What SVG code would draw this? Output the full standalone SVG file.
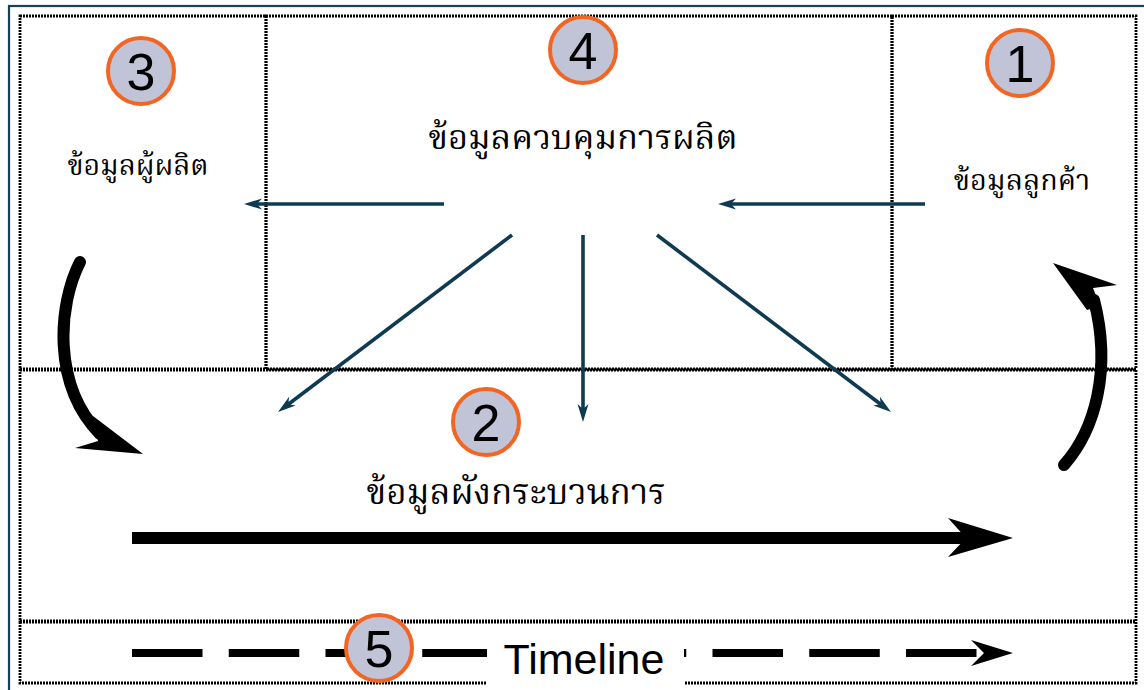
<svg xmlns="http://www.w3.org/2000/svg" width="1144" height="690" viewBox="0 0 1144 690">
<style>
.box{fill:none;stroke:#000;stroke-width:2.8;stroke-dasharray:2 1}
.badge circle{fill:#c1c3d7;stroke:#f26522;stroke-width:4}
.badge text{font-family:"Liberation Sans",Arial,sans-serif;font-size:52px;fill:#000;text-anchor:middle}
.th{font-family:"Noto Serif Thai","Noto Sans Thai","Noto Sans","DejaVu Sans",sans-serif;fill:#000;text-anchor:middle}
.conn{stroke:#0e3a52;stroke-width:3.6;fill:none;marker-end:url(#tip)}
</style>
<defs>
<marker id="tip" markerUnits="userSpaceOnUse" viewBox="0 -6 20 12" markerWidth="20" markerHeight="12" refX="10" refY="0" orient="auto">
<path d="M0,-5.5 L18,0 L0,5.5 L5,0 z" fill="#0e3a52"/>
</marker>
</defs>
<rect width="1144" height="690" fill="#fff"/>
<rect x="9" y="6" width="1200" height="800" fill="none" stroke="#17415a" stroke-width="2.2"/>

<g id="box3">
<rect class="box" x="20" y="16" width="246" height="353"/>
<g class="badge"><circle cx="141" cy="71" r="33"/><text x="141" y="90">3</text></g>
<text class="th" x="138" y="175" font-size="28.5">ข้อมูลผู้ผลิต</text>
</g>
<g id="box4">
<rect class="box" x="266" y="16" width="626" height="353"/>
<g class="badge"><circle cx="583" cy="50" r="33"/><text x="583" y="69">4</text></g>
<text class="th" x="583" y="149" font-size="34.5">ข้อมูลควบคุมการผลิต</text>
</g>
<g id="box1">
<rect class="box" x="892" y="16" width="244" height="353"/>
<g class="badge"><circle cx="1020" cy="63" r="33"/><text x="1020" y="82">1</text></g>
<text class="th" x="1022" y="190" font-size="28.8">ข้อมูลลูกค้า</text>
</g>
<g id="box2">
<rect class="box" x="20" y="370" width="1116" height="251"/>
<g class="badge"><circle cx="486" cy="422" r="33"/><text x="486" y="441">2</text></g>
<text class="th" x="516" y="504" font-size="35">ข้อมูลผังกระบวนการ</text>
<line x1="132" y1="538" x2="970" y2="538" stroke="#000" stroke-width="12"/>
<polygon points="948,518 1013,538 948,557 966,538" fill="#000"/>
</g>
<g id="box5">
<rect class="box" x="20" y="622" width="1116" height="61"/>
<line x1="132" y1="653" x2="977" y2="653" stroke="#000" stroke-width="8" stroke-dasharray="70.5 26.25"/>
<polygon points="971,640 1013,653 971,666 984,653" fill="#000"/>
<rect x="487" y="630" width="197" height="60" fill="#fff"/>
<text x="584" y="674" font-family="Liberation Sans, Arial, sans-serif" font-size="43" text-anchor="middle">Timeline</text>
<g class="badge"><circle cx="379" cy="648" r="33"/><text x="379" y="667">5</text></g>
</g>

<g id="connectors">
<line class="conn" x1="444" y1="204" x2="252" y2="204"/>
<line class="conn" x1="925" y1="204" x2="726" y2="204"/>
<line class="conn" x1="512" y1="235" x2="284.4" y2="407.2"/>
<line class="conn" x1="583" y1="235" x2="583" y2="414"/>
<line class="conn" x1="657" y1="235" x2="884.6" y2="407.2"/>
<path d="M80,262 C58,305 52,385 100,434" fill="none" stroke="#000" stroke-width="12" stroke-linecap="round"/>
<polygon points="93,416 143,454 75,448 98,441" fill="#000"/>
<path d="M1064,465 C1095,430 1112,370 1094,300" fill="none" stroke="#000" stroke-width="12" stroke-linecap="round"/>
<polygon points="1053,263 1117,285 1093,288 1100,306 1087,310" fill="#000"/>
</g>
</svg>
